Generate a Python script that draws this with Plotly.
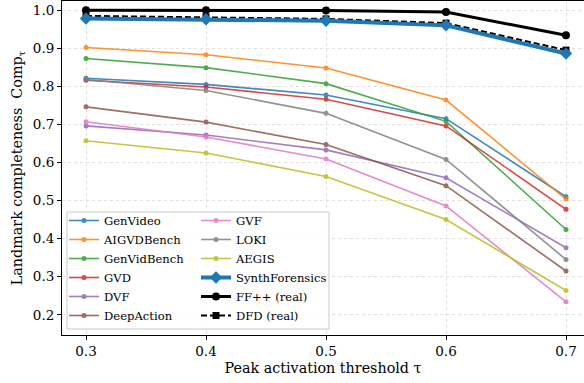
import plotly.graph_objects as go

tau = [0.3, 0.4, 0.5, 0.6, 0.7]
x_ticks = [0.3, 0.4, 0.5, 0.6, 0.7]
y_ticks = [0.2, 0.3, 0.4, 0.5, 0.6, 0.7, 0.8, 0.9, 1.0]

genvideo = [0.821, 0.805, 0.777, 0.715, 0.510]
aigvdbench = [0.902, 0.883, 0.848, 0.764, 0.504]
genvidbench = [0.873, 0.849, 0.807, 0.708, 0.424]
gvd = [0.816, 0.798, 0.766, 0.696, 0.477]
dvf = [0.696, 0.672, 0.633, 0.560, 0.376]
deepaction = [0.746, 0.706, 0.647, 0.539, 0.315]
gvf = [0.707, 0.667, 0.609, 0.486, 0.234]
loki = [0.818, 0.789, 0.729, 0.608, 0.345]
aegis = [0.657, 0.625, 0.563, 0.450, 0.264]
synthforensics = [0.978, 0.976, 0.972, 0.960, 0.886]
ffpp_real = [1.0, 1.0, 0.999, 0.995, 0.934]
dfd_real = [0.985, 0.982, 0.977, 0.966, 0.895]

FONT = "DejaVu Serif"

fig = go.Figure()

thin = [
    ("GenVideo", genvideo, "#1f77b4", "legend", 1),
    ("AIGVDBench", aigvdbench, "#ff7f0e", "legend", 2),
    ("GenVidBench", genvidbench, "#2ca02c", "legend", 3),
    ("GVD", gvd, "#d62728", "legend", 4),
    ("DVF", dvf, "#9467bd", "legend", 5),
    ("DeepAction", deepaction, "#8c564b", "legend", 6),
    ("GVF", gvf, "#e377c2", "legend2", 1),
    ("LOKI", loki, "#7f7f7f", "legend2", 2),
    ("AEGIS", aegis, "#bcbd22", "legend2", 3),
]
for name, vals, col, lg, rank in thin:
    fig.add_trace(go.Scatter(
        x=tau, y=vals, name=name, mode="lines+markers",
        line=dict(color=col, width=1.6), marker=dict(color=col, size=5),
        opacity=0.85, legend=lg, legendrank=rank))

fig.add_trace(go.Scatter(
    x=tau, y=ffpp_real, name="FF++ (real)", mode="lines+markers",
    line=dict(color="black", width=3), marker=dict(color="black", size=8, symbol="circle"),
    legend="legend2", legendrank=5))
fig.add_trace(go.Scatter(
    x=tau, y=dfd_real, name="DFD (real)", mode="lines+markers",
    line=dict(color="black", width=2, dash="6px,3px"),
    marker=dict(color="black", size=7, symbol="square"),
    legend="legend2", legendrank=6))
fig.add_trace(go.Scatter(
    x=tau, y=synthforensics, name="SynthForensics", mode="lines+markers",
    line=dict(color="#1f77b4", width=4),
    marker=dict(color="#1f77b4", size=9.5, symbol="diamond"),
    legend="legend2", legendrank=4))

W, H = 584, 383
ml, mr, mt, mb = 62, 0, 1, 48
pw, ph = W - ml - mr, H - mt - mb

def px2paper_x(px):
    return (px - ml) / pw

def px2paper_y(py):
    return (H - mb - py) / ph

leg_font = dict(family=FONT, size=11.6, color="black")

box_x0, box_x1 = px2paper_x(67), px2paper_x(329)
box_y0, box_y1 = px2paper_y(329), px2paper_y(212)

fig.update_layout(
    width=W, height=H,
    margin=dict(l=ml, r=mr, t=mt, b=mb, autoexpand=False),
    paper_bgcolor="white", plot_bgcolor="white",
    font=dict(family=FONT, size=13.5, color="black"),
    legend=dict(x=px2paper_x(64), y=px2paper_y(330), xanchor="left", yanchor="bottom",
                bgcolor="rgba(0,0,0,0)", borderwidth=0, font=leg_font,
                tracegroupgap=0, itemwidth=30),
    legend2=dict(x=px2paper_x(196), y=px2paper_y(330), xanchor="left", yanchor="bottom",
                 bgcolor="rgba(0,0,0,0)", borderwidth=0, font=leg_font,
                 tracegroupgap=0, itemwidth=30),
    shapes=[dict(type="rect", xref="paper", yref="paper",
                 x0=box_x0, x1=box_x1, y0=box_y0, y1=box_y1,
                 fillcolor="rgba(255,255,255,0.85)", line=dict(color="#cccccc", width=1),
                 layer="above")],
    showlegend=True,
)

fig.update_xaxes(
    range=[0.28, 0.715], tickvals=x_ticks, ticktext=[f"{v:.1f}" for v in x_ticks],
    showline=True, linecolor="black", linewidth=1, mirror=True,
    ticks="outside", ticklen=4, tickcolor="black",
    showgrid=True, gridcolor="#e0e0e0", gridwidth=0.8, griddash="dot",
    zeroline=False, automargin=False,
    title=dict(text="Peak activation threshold τ", font=dict(family=FONT, size=14.3), standoff=4),
    tickfont=dict(family=FONT, size=13.5),
)
fig.update_yaxes(
    range=[0.147, 1.024], tickvals=y_ticks, ticktext=[f"{v:.1f}" for v in y_ticks],
    showline=True, linecolor="black", linewidth=1, mirror=False,
    ticks="outside", ticklen=4, tickcolor="black",
    showgrid=True, gridcolor="#e0e0e0", gridwidth=0.8, griddash="dot",
    zeroline=False, automargin=False,
    title=dict(text="Landmark completeness  Comp<sub>τ</sub>", font=dict(family=FONT, size=14.3), standoff=6),
    tickfont=dict(family=FONT, size=13.5),
)

fig.write_html("out.html", config={"displayModeBar": False},
               post_script="document.body.style.margin='0';")
